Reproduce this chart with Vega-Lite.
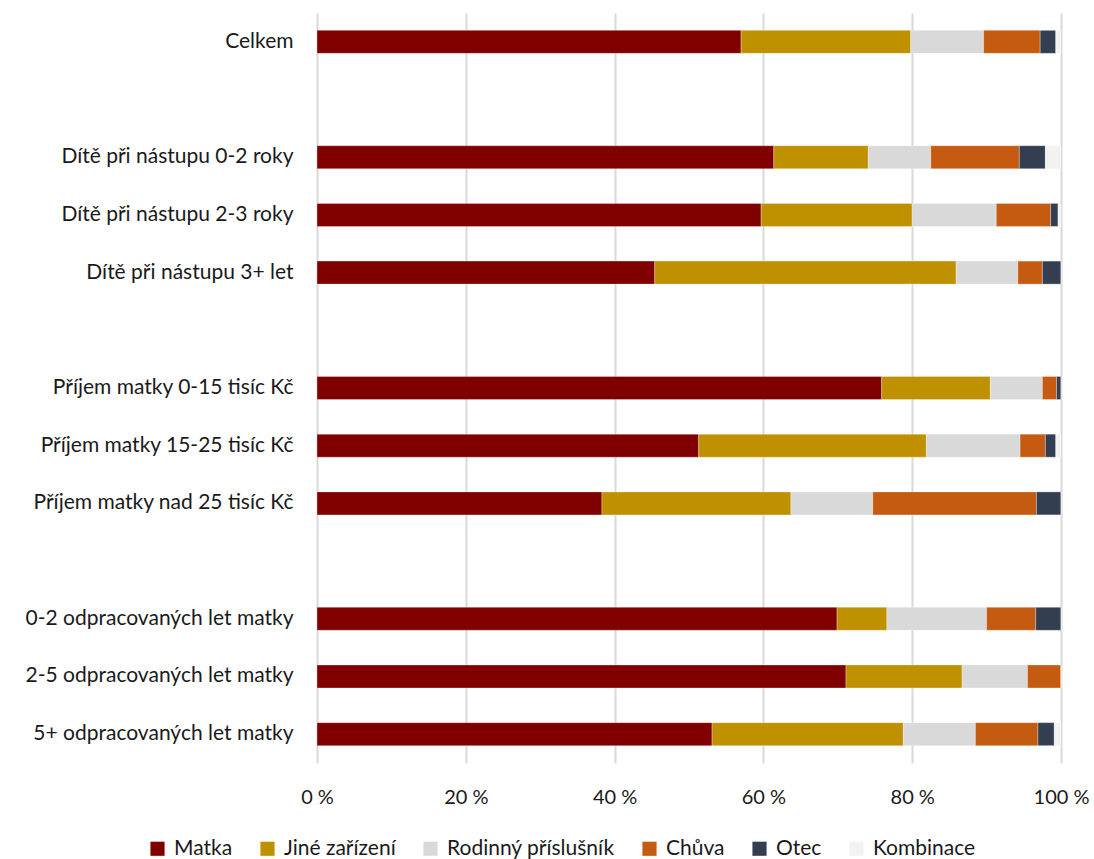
{
  "$schema": "https://vega.github.io/schema/vega-lite/v6.json",
  "autosize": {"type": "none"},
  "width": 744,
  "height": 750,
  "padding": {"left": 317, "top": 13, "right": 33, "bottom": 96},
  "background": "white",
  "config": {
    "view": {"stroke": null},
    "font": "Lato",
    "axis": {"labelFont": "Lato", "labelColor": "#1a1a1a"},
    "legend": {"labelFont": "Lato", "labelColor": "#1a1a1a"}
  },
  "data": {
    "values": [
      {"g": "Celkem", "s": "Matka", "k": 1, "v": 57.0},
      {"g": "Celkem", "s": "Jiné zařízení", "k": 2, "v": 22.8},
      {"g": "Celkem", "s": "Rodinný příslušník", "k": 3, "v": 9.8},
      {"g": "Celkem", "s": "Chůva", "k": 4, "v": 7.6},
      {"g": "Celkem", "s": "Otec", "k": 5, "v": 2.1},
      {"g": "Celkem", "s": "Kombinace", "k": 6, "v": 0.7},
      {"g": "Dítě při nástupu 0-2 roky", "s": "Matka", "k": 1, "v": 61.4},
      {"g": "Dítě při nástupu 0-2 roky", "s": "Jiné zařízení", "k": 2, "v": 12.7},
      {"g": "Dítě při nástupu 0-2 roky", "s": "Rodinný příslušník", "k": 3, "v": 8.4},
      {"g": "Dítě při nástupu 0-2 roky", "s": "Chůva", "k": 4, "v": 11.9},
      {"g": "Dítě při nástupu 0-2 roky", "s": "Otec", "k": 5, "v": 3.5},
      {"g": "Dítě při nástupu 0-2 roky", "s": "Kombinace", "k": 6, "v": 2.1},
      {"g": "Dítě při nástupu 2-3 roky", "s": "Matka", "k": 1, "v": 59.7},
      {"g": "Dítě při nástupu 2-3 roky", "s": "Jiné zařízení", "k": 2, "v": 20.3},
      {"g": "Dítě při nástupu 2-3 roky", "s": "Rodinný příslušník", "k": 3, "v": 11.3},
      {"g": "Dítě při nástupu 2-3 roky", "s": "Chůva", "k": 4, "v": 7.3},
      {"g": "Dítě při nástupu 2-3 roky", "s": "Otec", "k": 5, "v": 1.0},
      {"g": "Dítě při nástupu 2-3 roky", "s": "Kombinace", "k": 6, "v": 0.4},
      {"g": "Dítě při nástupu 3+ let", "s": "Matka", "k": 1, "v": 45.4},
      {"g": "Dítě při nástupu 3+ let", "s": "Jiné zařízení", "k": 2, "v": 40.5},
      {"g": "Dítě při nástupu 3+ let", "s": "Rodinný příslušník", "k": 3, "v": 8.3},
      {"g": "Dítě při nástupu 3+ let", "s": "Chůva", "k": 4, "v": 3.3},
      {"g": "Dítě při nástupu 3+ let", "s": "Otec", "k": 5, "v": 2.5},
      {"g": "Dítě při nástupu 3+ let", "s": "Kombinace", "k": 6, "v": 0.0},
      {"g": "Příjem matky 0-15 tisíc Kč", "s": "Matka", "k": 1, "v": 75.9},
      {"g": "Příjem matky 0-15 tisíc Kč", "s": "Jiné zařízení", "k": 2, "v": 14.6},
      {"g": "Příjem matky 0-15 tisíc Kč", "s": "Rodinný příslušník", "k": 3, "v": 7.0},
      {"g": "Příjem matky 0-15 tisíc Kč", "s": "Chůva", "k": 4, "v": 1.9},
      {"g": "Příjem matky 0-15 tisíc Kč", "s": "Otec", "k": 5, "v": 0.6},
      {"g": "Příjem matky 0-15 tisíc Kč", "s": "Kombinace", "k": 6, "v": 0.0},
      {"g": "Příjem matky 15-25 tisíc Kč", "s": "Matka", "k": 1, "v": 51.3},
      {"g": "Příjem matky 15-25 tisíc Kč", "s": "Jiné zařízení", "k": 2, "v": 30.6},
      {"g": "Příjem matky 15-25 tisíc Kč", "s": "Rodinný příslušník", "k": 3, "v": 12.6},
      {"g": "Příjem matky 15-25 tisíc Kč", "s": "Chůva", "k": 4, "v": 3.4},
      {"g": "Příjem matky 15-25 tisíc Kč", "s": "Otec", "k": 5, "v": 1.4},
      {"g": "Příjem matky 15-25 tisíc Kč", "s": "Kombinace", "k": 6, "v": 0.7},
      {"g": "Příjem matky nad 25 tisíc Kč", "s": "Matka", "k": 1, "v": 38.3},
      {"g": "Příjem matky nad 25 tisíc Kč", "s": "Jiné zařízení", "k": 2, "v": 25.4},
      {"g": "Příjem matky nad 25 tisíc Kč", "s": "Rodinný příslušník", "k": 3, "v": 11.0},
      {"g": "Příjem matky nad 25 tisíc Kč", "s": "Chůva", "k": 4, "v": 22.0},
      {"g": "Příjem matky nad 25 tisíc Kč", "s": "Otec", "k": 5, "v": 3.3},
      {"g": "Příjem matky nad 25 tisíc Kč", "s": "Kombinace", "k": 6, "v": 0.0},
      {"g": "0-2 odpracovaných let matky", "s": "Matka", "k": 1, "v": 69.9},
      {"g": "0-2 odpracovaných let matky", "s": "Jiné zařízení", "k": 2, "v": 6.7},
      {"g": "0-2 odpracovaných let matky", "s": "Rodinný příslušník", "k": 3, "v": 13.4},
      {"g": "0-2 odpracovaných let matky", "s": "Chůva", "k": 4, "v": 6.6},
      {"g": "0-2 odpracovaných let matky", "s": "Otec", "k": 5, "v": 3.4},
      {"g": "0-2 odpracovaných let matky", "s": "Kombinace", "k": 6, "v": 0.0},
      {"g": "2-5 odpracovaných let matky", "s": "Matka", "k": 1, "v": 71.1},
      {"g": "2-5 odpracovaných let matky", "s": "Jiné zařízení", "k": 2, "v": 15.6},
      {"g": "2-5 odpracovaných let matky", "s": "Rodinný příslušník", "k": 3, "v": 8.8},
      {"g": "2-5 odpracovaných let matky", "s": "Chůva", "k": 4, "v": 4.5},
      {"g": "2-5 odpracovaných let matky", "s": "Otec", "k": 5, "v": 0.0},
      {"g": "2-5 odpracovaných let matky", "s": "Kombinace", "k": 6, "v": 0.0},
      {"g": "5+ odpracovaných let matky", "s": "Matka", "k": 1, "v": 53.1},
      {"g": "5+ odpracovaných let matky", "s": "Jiné zařízení", "k": 2, "v": 25.7},
      {"g": "5+ odpracovaných let matky", "s": "Rodinný příslušník", "k": 3, "v": 9.7},
      {"g": "5+ odpracovaných let matky", "s": "Chůva", "k": 4, "v": 8.4},
      {"g": "5+ odpracovaných let matky", "s": "Otec", "k": 5, "v": 2.2},
      {"g": "5+ odpracovaných let matky", "s": "Kombinace", "k": 6, "v": 0.9}
    ]
  },
  "mark": {"type": "bar", "size": 23, "stroke": "white", "strokeWidth": 0.5, "strokeOpacity": 0.6},
  "encoding": {
    "y": {
      "field": "g",
      "type": "nominal",
      "title": null,
      "scale": {
        "domain": ["Celkem", " ", "Dítě při nástupu 0-2 roky", "Dítě při nástupu 2-3 roky", "Dítě při nástupu 3+ let", "  ", "Příjem matky 0-15 tisíc Kč", "Příjem matky 15-25 tisíc Kč", "Příjem matky nad 25 tisíc Kč", "   ", "0-2 odpracovaných let matky", "2-5 odpracovaných let matky", "5+ odpracovaných let matky"],
        "paddingInner": 0.6,
        "paddingOuter": 0.3
      },
      "axis": {"domain": false, "ticks": false, "grid": false, "labelFontSize": 21, "labelPadding": 24, "labelLimit": 400}
    },
    "x": {
      "field": "v",
      "type": "quantitative",
      "stack": "zero",
      "title": null,
      "scale": {"domain": [0, 100], "nice": false},
      "axis": {"values": [0, 20, 40, 60, 80, 100], "labelExpr": "datum.value + ' %'", "labelFlush": false, "domain": false, "ticks": false, "grid": true, "gridColor": "#D9D9D9", "gridWidth": 2, "labelFontSize": 20, "labelPadding": 24}
    },
    "color": {
      "field": "s",
      "type": "nominal",
      "scale": {
        "domain": ["Matka", "Jiné zařízení", "Rodinný příslušník", "Chůva", "Otec", "Kombinace"],
        "range": ["#800000", "#BF9000", "#D9D9D9", "#C55A11", "#333F50", "#F2F2F2"]
      },
      "legend": {
        "title": null,
        "orient": "none",
        "legendX": -170,
        "legendY": 825,
        "direction": "horizontal",
        "symbolType": "square",
        "symbolSize": 200,
        "symbolStrokeWidth": 0,
        "labelFontSize": 21,
        "labelOffset": 6,
        "labelLimit": 400,
        "columnPadding": 24
      }
    },
    "order": {"field": "k", "type": "quantitative"}
  }
}
